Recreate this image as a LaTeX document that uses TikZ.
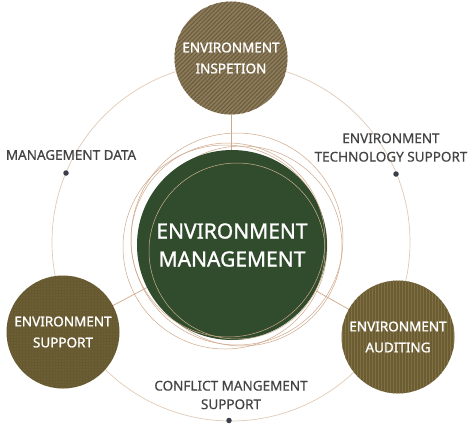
\documentclass[tikz,border=0pt]{standalone}
\usepackage{fontspec}
\setmainfont{Noto Sans}
\newfontfamily\semib[FakeBold=1.2]{Noto Sans}
\newfontfamily\labf[FakeBold=0.4]{Noto Sans}
\usetikzlibrary{patterns.meta}
\definecolor{ringc}{HTML}{E0CBB8}
\definecolor{connc}{HTML}{CFA88A}
\definecolor{ringin}{HTML}{C8B08E}
\definecolor{topbase}{HTML}{8C7B59}
\definecolor{topline}{HTML}{6C5D40}
\definecolor{leftbase}{HTML}{66592F}
\definecolor{leftdot}{HTML}{7F7249}
\definecolor{rightbase}{HTML}{6B5C31}
\definecolor{rightline}{HTML}{7F7046}
\definecolor{greenc}{HTML}{314C2C}
\definecolor{labelc}{HTML}{444444}
\definecolor{dotc}{HTML}{3A3F48}
\begin{document}
\begin{tikzpicture}[x=1pt,y=-1pt,
  sat/.style={circle,minimum size=113pt,inner sep=0pt,text=white,align=center,
    font=\semib\fontsize{13.5}{21}\selectfont},
  lbl/.style={text=labelc,align=center,inner sep=0pt,font=\labf\fontsize{13.5}{18.5}\selectfont},
  dotn/.style={circle,fill=dotc,minimum size=5.5pt,inner sep=0pt},
  conn/.style={draw=connc,line width=0.7pt},
  ring/.style={draw=connc,line width=0.5pt}]
\useasboundingbox[fill=white] (0,0) rectangle (474,424);
\coordinate (cc) at (231,243);
\coordinate (tc) at (231,58);
\coordinate (lc) at (63,332);
\coordinate (rc) at (398,337);
% outer circle
\node[circle,draw=ringc,line width=0.7pt,minimum size=358pt,inner sep=0pt] (outer) at (231,242) {};
% connectors
\draw[conn] (cc) -- (tc);
\draw[conn] (cc) -- (lc);
\draw[conn] (cc) -- (rc);
% rings under
\draw[ring] (237,239) circle (106);
\draw[ring] (225,247) circle (102);
\draw[ring] (242,246) circle (100);
% satellites
\node[sat,fill=topbase,postaction={pattern={Lines[angle=45,distance=3pt,line width=1.1pt]},pattern color=topline}] (top) at (tc) {ENVIRONMENT\\INSPETION};
\node[sat,fill=leftbase,postaction={pattern={Dots[radius=0.55pt,distance=3pt]},pattern color=leftdot}] (left) at (lc) {ENVIRONMENT\\SUPPORT};
\node[sat,fill=rightbase,postaction={pattern={Lines[angle=90,distance=3pt,line width=1pt]},pattern color=rightline}] (right) at (rc) {ENVIRONMENT\\AUDITING};
% center
\node[circle,fill=greenc,minimum size=190pt,inner sep=0pt,text=white,align=center,
  font=\semib\fontsize{21}{28}\selectfont] (center) at (232,245) {ENVIRONMENT\\MANAGEMENT};
\draw[ring] (228,240) circle (97);
\draw[draw=ringin,line width=0.5pt] (237,251) circle (88);
% labels
\node[lbl] (mdata) at (71,155) {MANAGEMENT DATA};
\node[dotn] (mdot) at (66,173) {};
\node[lbl] (tech) at (391,147.5) {ENVIRONMENT\\TECHNOLOGY SUPPORT};
\node[dotn] (tdot) at (396,174) {};
\node[lbl] (conf) at (231,395) {CONFLICT MANGEMENT\\SUPPORT};
\node[dotn] (cdot) at (229,420.5) {};
\end{tikzpicture}
\end{document}
